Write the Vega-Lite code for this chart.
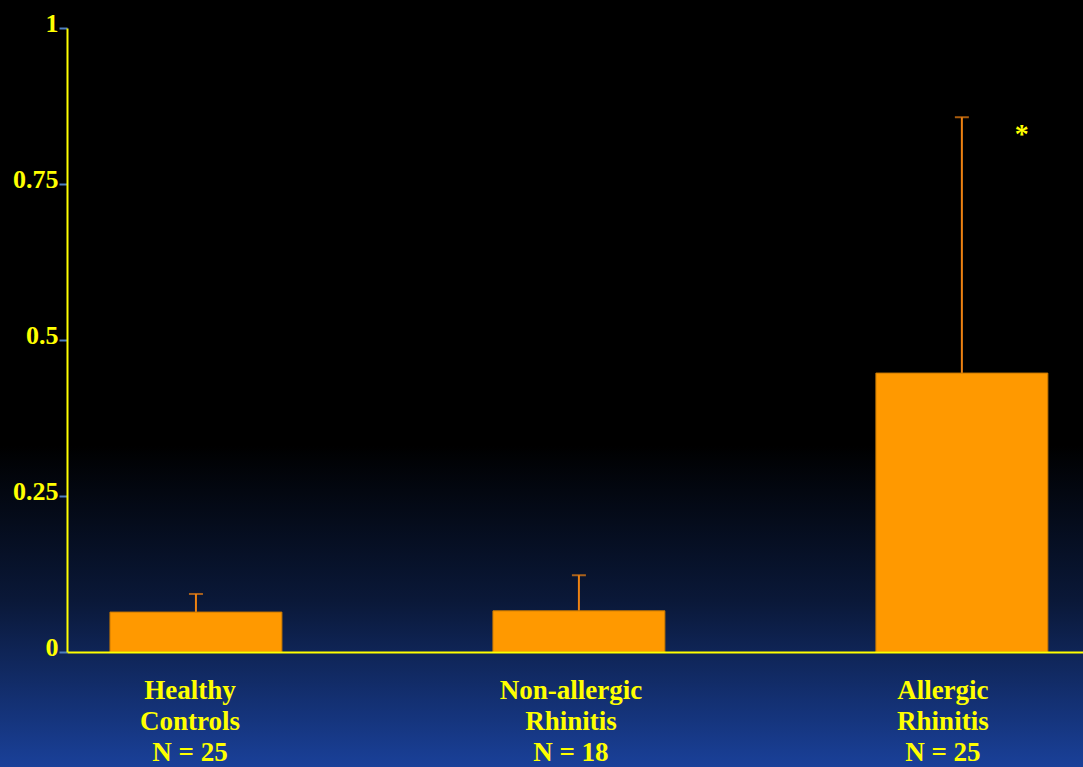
{
  "$schema": "https://vega.github.io/schema/vega-lite/v6.json",
  "width": 1016,
  "height": 624,
  "autosize": "none",
  "padding": {"left": 67, "top": 28, "right": 0, "bottom": 115},
  "background": "#000000",
  "config": {"view": {"stroke": null}},
  "datasets": {
    "groups": [
      {"group": "Healthy|Controls|N = 25", "mean": 0.064, "upper": 0.093, "sig": ""},
      {"group": "Non-allergic|Rhinitis|N = 18", "mean": 0.066, "upper": 0.123, "sig": ""},
      {"group": "Allergic|Rhinitis|N = 25", "mean": 0.447, "upper": 0.857, "sig": "*"}
    ]
  },
  "resolve": {"scale": {"x": "independent", "y": "independent"}},
  "layer": [
    {
      "data": {"values": [{}]},
      "mark": {
        "type": "rect",
        "fill": {
          "gradient": "linear",
          "x1": 0, "y1": 0, "x2": 0, "y2": 1,
          "stops": [
            {"offset": 0, "color": "#000000"},
            {"offset": 0.58, "color": "#000000"},
            {"offset": 0.78, "color": "#0a1838"},
            {"offset": 1, "color": "#1a419b"}
          ]
        }
      },
      "encoding": {
        "x": {"datum": -0.066, "type": "quantitative", "scale": {"domain": [0, 1], "nice": false, "zero": false}, "axis": null},
        "x2": {"datum": 1.0},
        "y": {"datum": -0.19, "type": "quantitative", "scale": {"domain": [0, 1], "nice": false, "zero": false}, "axis": null},
        "y2": {"datum": 1.05}
      }
    },
    {
      "data": {"name": "groups"},
      "encoding": {
        "x": {
          "field": "group",
          "type": "nominal",
          "sort": null,
          "scale": {"paddingInner": 0.551, "paddingOuter": 0.102, "align": 0.55},
          "axis": {
            "title": null,
            "zindex": 2,
            "labelExpr": "split(datum.label, '|')",
            "labelAngle": 0,
            "labelFont": "Liberation Serif",
            "labelFontWeight": "bold",
            "labelFontSize": 27,
            "labelColor": "#FFFF00",
            "labelLineHeight": 31,
            "labelPadding": 25,
            "labelBaseline": "top",
            "labelOffset": {"expr": "datum.value == 'Allergic|Rhinitis|N = 25' ? -19 : (datum.value == 'Healthy|Controls|N = 25' ? -6 : -8)"},
            "ticks": false,
            "domainColor": "#FFFF00",
            "domainWidth": 2
          }
        },
        "y": {
          "type": "quantitative",
          "scale": {"domain": [0, 1], "nice": false},
          "axis": {
            "title": null,
            "zindex": 2,
            "values": [0, 0.25, 0.5, 0.75, 1],
            "labelExpr": "datum.value == 0 ? '0' : format(datum.value, '.2~f')",
            "grid": false,
            "labelFont": "Liberation Serif",
            "labelFontWeight": "bold",
            "labelFontSize": 26,
            "labelColor": "#FFFF00",
            "labelPadding": 1,
            "labelOffset": -5,
            "tickSize": 8,
            "tickColor": "#4f7fbf",
            "tickWidth": 2,
            "domainColor": "#FFFF00",
            "domainWidth": 2
          }
        }
      },
      "layer": [
        {
          "mark": {"type": "rule", "color": "#ee8212", "strokeWidth": 2},
          "encoding": {"y": {"field": "mean"}, "y2": {"field": "upper"}}
        },
        {
          "mark": {"type": "tick", "color": "#ee8212", "thickness": 2, "size": 14, "orient": "horizontal"},
          "encoding": {"y": {"field": "upper"}}
        },
        {
          "mark": {"type": "bar", "color": "#FF9900", "stroke": "#c87800", "strokeWidth": 1},
          "encoding": {"y": {"field": "mean"}}
        },
        {
          "mark": {"type": "text", "color": "#FFFF00", "font": "Liberation Serif", "fontWeight": "bold", "fontSize": 28, "dx": 60, "dy": 18},
          "encoding": {"y": {"field": "upper"}, "text": {"field": "sig"}}
        }
      ]
    }
  ]
}
